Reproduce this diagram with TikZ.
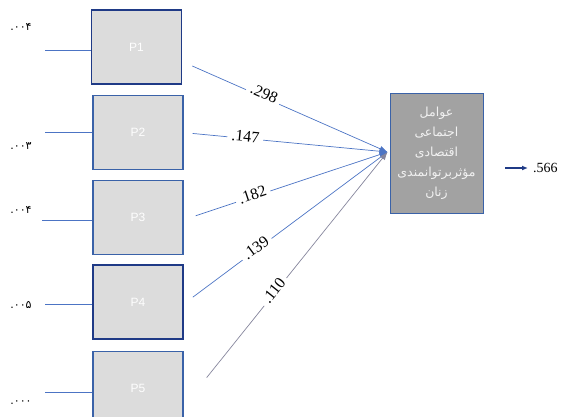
\documentclass[tikz,border=0pt]{standalone}
\usepackage{fontspec}
\setmainfont{Liberation Serif}
\newfontfamily\arabicfont[Script=Arabic]{DejaVu Sans}
\newfontfamily\digitfont{DejaVu Sans}
\newfontfamily\boxfont{Liberation Sans}
\TeXXeTstate=1
\usepackage{tikz}
\usetikzlibrary{arrows.meta, positioning, calc}
\definecolor{boxfill}{HTML}{DCDCDC}
\definecolor{navyline}{HTML}{1F3A86}
\definecolor{midline}{HTML}{3A62A8}
\definecolor{pathblue}{HTML}{4C74C4}
\definecolor{pathgrey}{HTML}{85859C}
\definecolor{bigfill}{HTML}{A2A2A2}

\begin{document}
\begin{tikzpicture}[x=1pt, y=-1pt, >=Latex,
    obs/.style={draw=midline, line width=1.3pt, fill=boxfill, minimum width=90pt,
      minimum height=74pt, inner sep=0pt, text=white!96!boxfill, font=\boxfont\fontsize{12}{12}\selectfont},
    obsdark/.style={obs, draw=navyline, line width=1.6pt},
    coef/.style={sloped, fill=white, inner sep=4pt, font=\fontsize{16}{16}\selectfont},
    errlab/.style={font=\digitfont\fontsize{11}{11}\selectfont},
    errline/.style={draw=pathblue, line width=0.7pt},
    path/.style={-{Latex[length=8pt,width=6pt]}, draw=pathblue, line width=0.7pt}]
  \clip (0,0) rectangle (574,416);

  % observed variables
  \node[obsdark] (p1) at (136.5,47) {P1};
  \node[obs, below=10pt of p1, xshift=1.5pt] (p2) {P2};
  \node[obs, below=10pt of p2] (p3) {P3};
  \node[obsdark, below=9pt of p3] (p4) {P4};
  \node[obs, below=11pt of p4] (p5) {P5};

  % latent variable
  \node[draw=midline, line width=1pt, fill=bigfill, minimum width=93pt, minimum height=120pt,
    text=white!85!bigfill, align=center, font=\arabicfont\fontsize{12.5}{20}\selectfont]
    (big) at (436.5,153)
    {\beginR عوامل\endR\\ \beginR اجتماعی\endR\\ \beginR اقتصادی\endR\\
     \beginR مؤثربرتوانمندی\endR\\ \beginR زنان\endR};
  \coordinate (hub) at ($(big.west)+(-2,-1)$);

  % error terms
  \coordinate (e1) at (45,50);
  \coordinate (e2) at (45,132);
  \coordinate (e3) at (42,220);
  \coordinate (e4) at (45,304);
  \coordinate (e5) at (45,392);
  \draw[errline] (e1) -- (e1 -| p1.west);
  \draw[errline] (e2) -- (e2 -| p2.west);
  \draw[errline] (e3) -- (e3 -| p3.west);
  \draw[errline] (e4) -- (e4 -| p4.west);
  \draw[errline] (e5) -- (e5 -| p5.west);
  \node[errlab] (v1) at (21,27) {.۰۰۴};
  \node[errlab] (v2) at (21,146) {.۰۰۳};
  \node[errlab] (v3) at (21,210) {.۰۰۴};
  \node[errlab] (v4) at (21,305) {.۰۰۵};
  \node[errlab] (v5) at (21,403) {.۰۰۰};

  % paths
  \coordinate (s1) at ($(p1.east)+(10,19)$);
  \coordinate (s2) at ($(p2.east)+(9,1)$);
  \coordinate (s3) at ($(p3.east)+(12,-2)$);
  \coordinate (s4) at ($(p4.east)+(9,-5)$);
  \coordinate (s5) at ($(p5.east)+(23,-11)$);
  \draw[path] (s1) to node[coef, pos=0.36, yshift=4pt] (c1) {.298} (hub);
  \draw[path] (s2) to node[coef, pos=0.27, yshift=2pt] (c2) {.147} (hub);
  \draw[path] (s3) to node[coef, pos=0.30, yshift=2pt] (c3) {.182} (hub);
  \draw[path] (s4) to node[coef, pos=0.33, yshift=2pt] (c4) {.139} (hub);
  \draw[path, draw=pathgrey] (s5) to node[coef, pos=0.38, yshift=2pt] (c5) {.110} (hub);

  % residual of the latent variable
  \coordinate (r0) at (505,168);
  \coordinate (r1) at (528,168);
  \draw[-{Latex[length=6pt,width=5pt]}, draw=navyline, fill=navyline, line width=1.8pt] (r0) -- (r1);
  \node[right=5pt of r1, font=\fontsize{14}{14}\selectfont, inner sep=0pt] (res) {.566};
\end{tikzpicture}
\end{document}
